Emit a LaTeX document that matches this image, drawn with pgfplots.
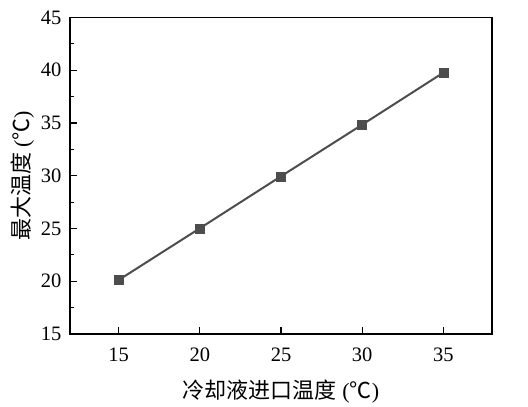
\documentclass[border=0pt]{standalone}
\usepackage{fontspec}
\setmainfont{Liberation Serif}
\newfontfamily\cjk{Noto Sans CJK SC}
\usepackage{pgfplots}
\pgfplotsset{compat=1.18}

\definecolor{linegray}{HTML}{4D4D4D}

\begin{document}
\begin{tikzpicture}
\begin{axis}[
  name=ax,
  scale only axis,
  width=422pt, height=316.5pt,
  xmin=12, xmax=38, ymin=15, ymax=45,
  xtick={15,20,25,30,35},
  ytick={15,20,...,45},
  minor y tick num=1,
  tick align=inside,
  xtick pos=bottom, ytick pos=left,
  major tick length=7pt, minor tick length=4pt,
  axis line style={line width=1.3pt},
  every tick/.style={black, line width=1.2pt},
  /pgf/number format/assume math mode=true,
  ticklabel style={font=\fontsize{20.5}{24}\selectfont},
  xticklabel style={yshift=-10pt},
  yticklabel style={xshift=-5pt},
  xlabel={{\cjk 冷却液进口温度} ({\cjk ℃})},
  ylabel={{\cjk 最大温度} ({\cjk ℃})},
  label style={font=\fontsize{22}{26}\selectfont},
  xlabel style={yshift=-12pt},
  ylabel style={yshift=0pt},
]
\addplot[color=linegray, line width=2pt, mark=square*, mark size=4.5pt,
  mark options={fill=linegray, draw=linegray, line width=0.5pt}]
  coordinates {
    (15,20.12) (20,25.02) (25,29.95) (30,34.84) (35,39.77)
  };
\end{axis}
\path ([shift={(-70pt,-71pt)}]ax.south west) rectangle ([shift={(36pt,17.5pt)}]ax.north east);
\end{tikzpicture}
\end{document}
